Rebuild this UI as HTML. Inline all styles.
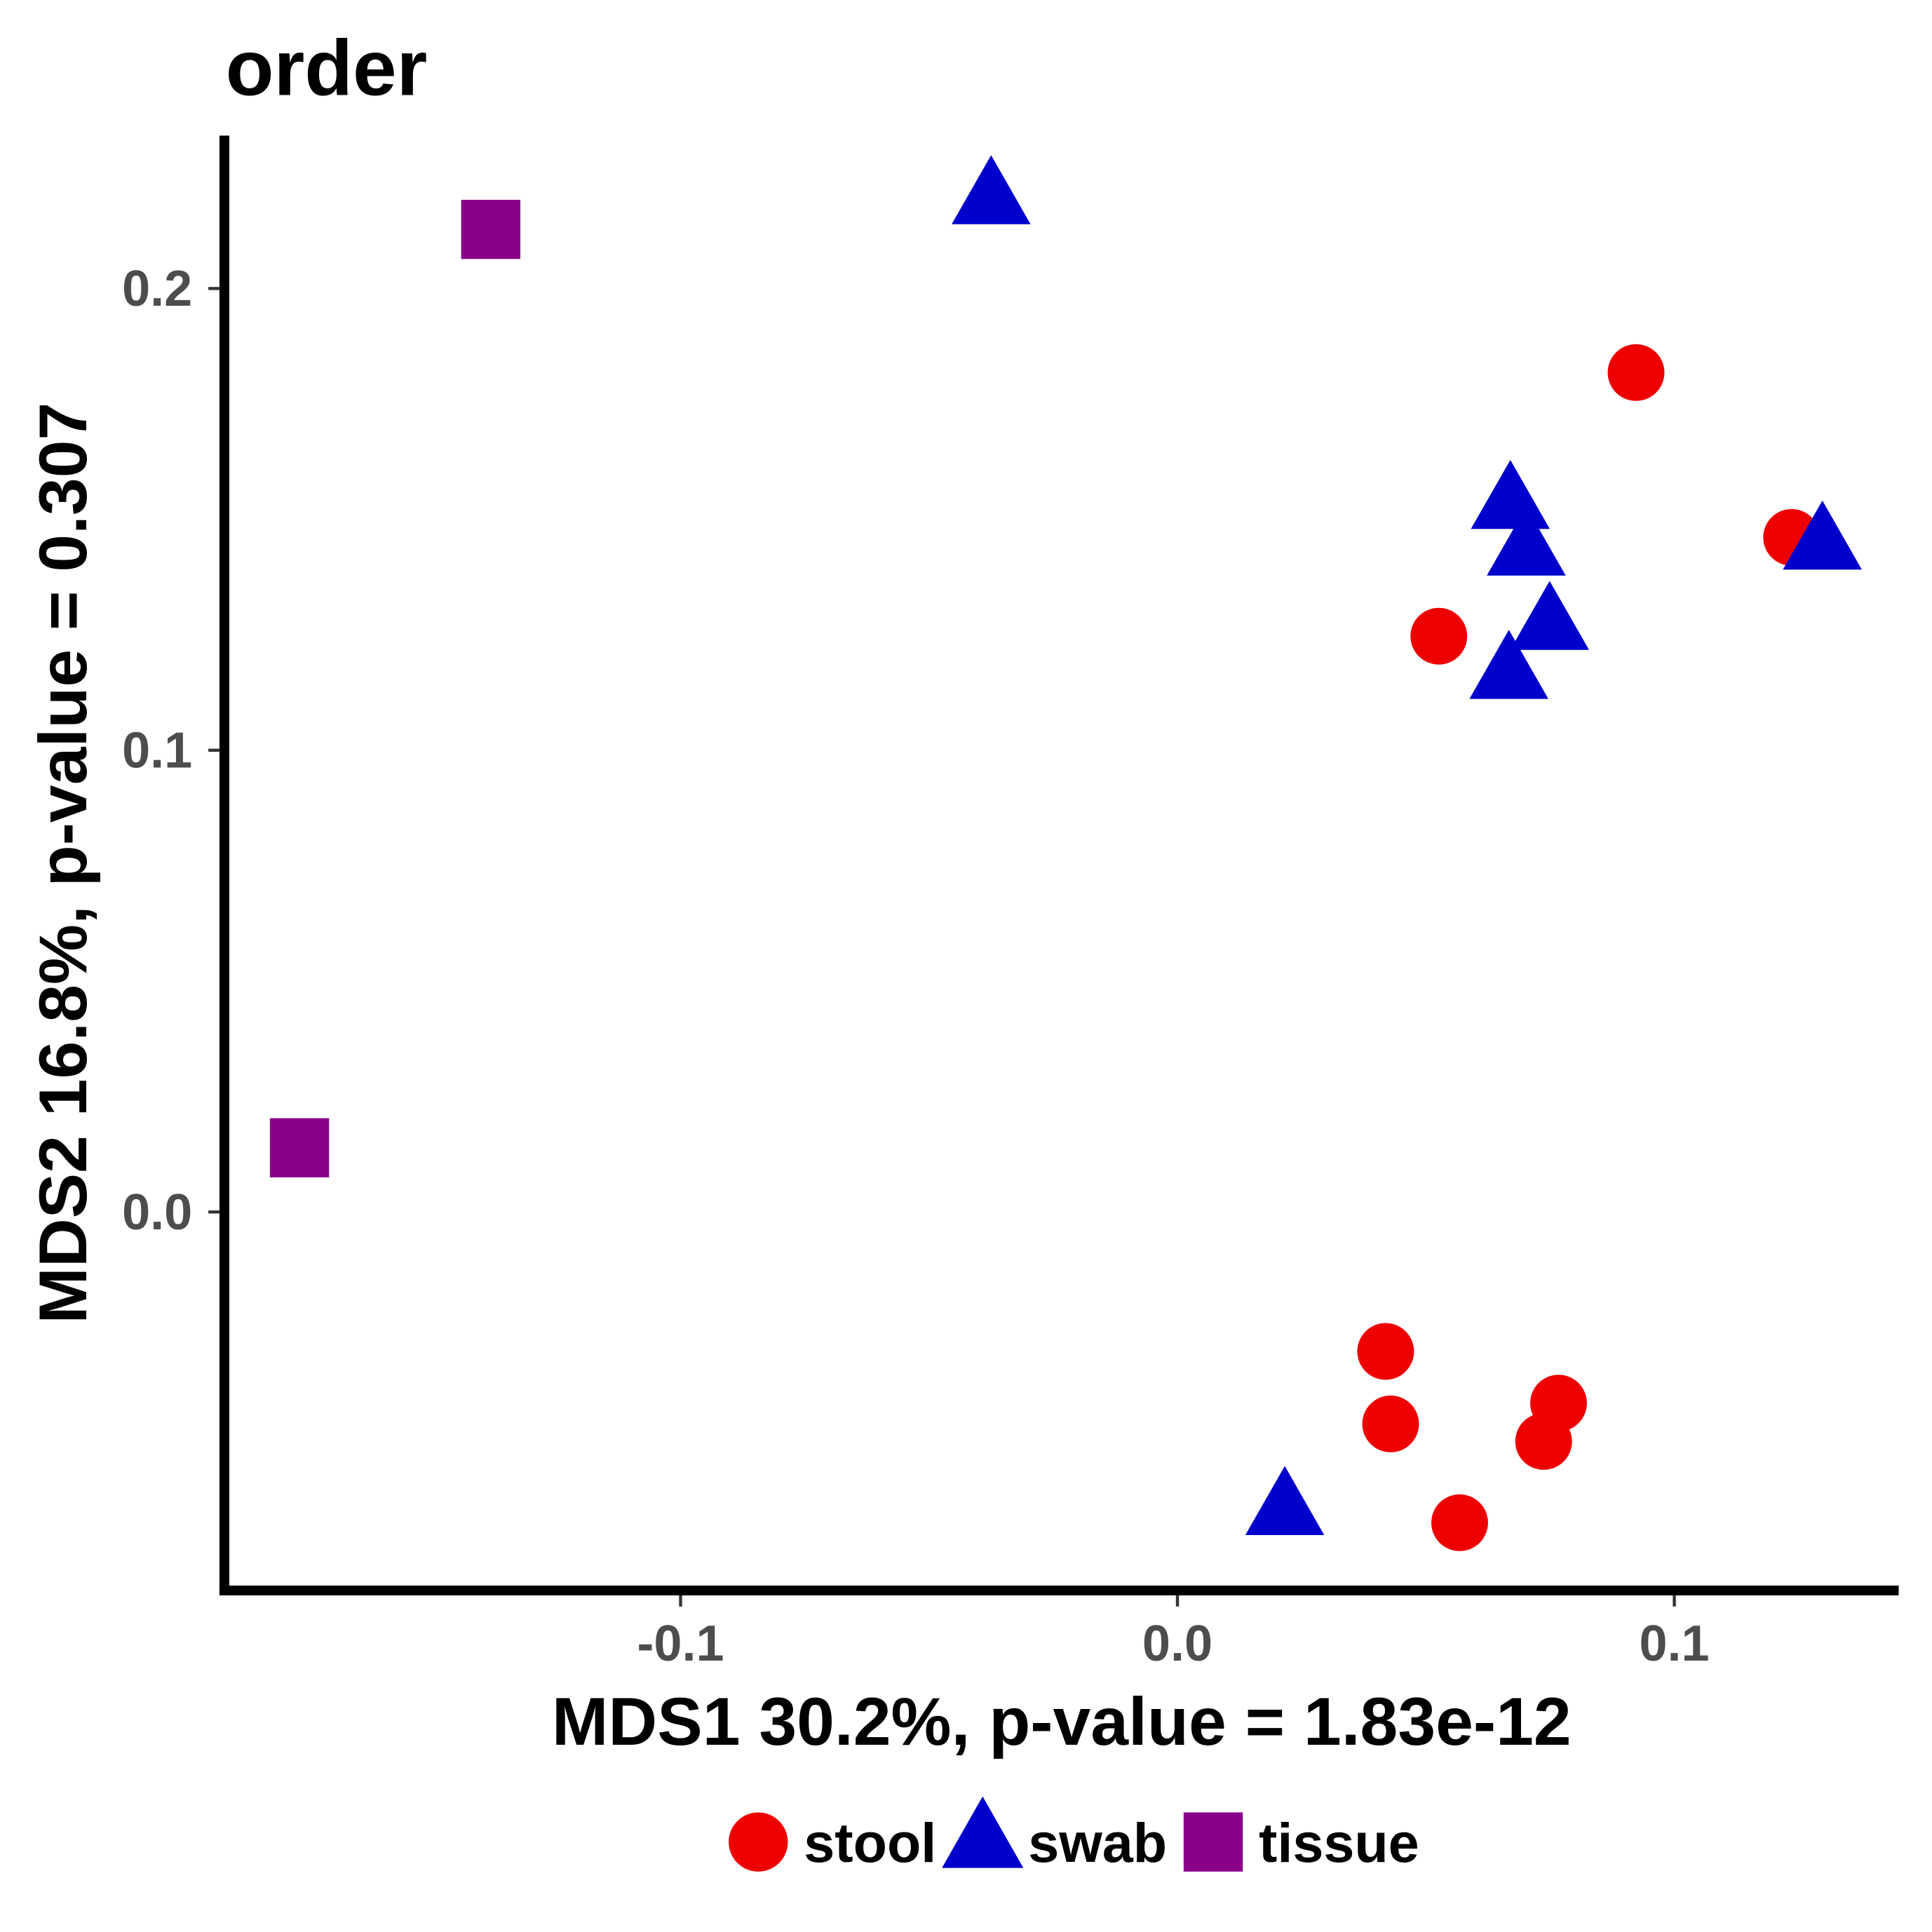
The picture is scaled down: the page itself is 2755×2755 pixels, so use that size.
<!DOCTYPE html>
<html><head><meta charset="utf-8"><style>html,body{margin:0;padding:0;background:#fff}svg{display:block}</style></head>
<body>
<svg id="chart" width="2755" height="2755" viewBox="0 0 1567 1567" xmlns="http://www.w3.org/2000/svg" font-family="Liberation Sans, sans-serif" font-weight="bold">
<text x="183" y="77" font-size="64">order</text>
<g id="axes"></g>
<g id="marks"></g>
<text x="861" y="1415" font-size="55" text-anchor="middle">MDS1 30.2%, p-value = 1.83e-12</text>
<text transform="translate(70,700) rotate(-90)" font-size="55" text-anchor="middle">MDS2 16.8%, p-value = 0.307</text>
<g>
<circle cx="615" cy="1494" r="24" fill="#ee0000"/>
<text x="652" y="1510" font-size="45">stool</text>
<polygon points="797,1457 830,1515 764,1515" fill="#0000cd"/>
<text x="834" y="1510" font-size="45">swab</text>
<rect x="960" y="1470" width="48" height="48" fill="#8b008b"/>
<text x="1021" y="1510" font-size="45">tissue</text>
</g>
</svg>
<script>
const xTicks = [-0.1, 0.0, 0.1];
const xTickLabels = ["-0.1", "0.0", "0.1"];
const yTicks = [0.0, 0.1, 0.2];
const yTickLabels = ["0.0", "0.1", "0.2"];
const stoolX = [0.0923, 0.1236, 0.0526, 0.0419, 0.0429, 0.0767, 0.0737, 0.0568];
const stoolY = [0.1818, 0.1461, 0.1247, -0.0302, -0.0459, -0.0414, -0.0497, -0.0673];
const swabX = [-0.0375, 0.0670, 0.0702, 0.0749, 0.0667, 0.1298, 0.0216];
const swabY = [0.2206, 0.1546, 0.1445, 0.1284, 0.1178, 0.1458, -0.0633];
const tissueX = [-0.1382, -0.1767];
const tissueY = [0.2128, 0.0139];

const NS = "http://www.w3.org/2000/svg";
const xs = v => 955 + v * 4030;
const ys = v => 983 - v * 3745;
const axes = document.getElementById('axes');
const marks = document.getElementById('marks');
function mk(tag, attrs, parent) {
  const e = document.createElementNS(NS, tag);
  for (const k in attrs) e.setAttribute(k, attrs[k]);
  parent.appendChild(e);
  return e;
}
let e;
e = mk('line', {x1:182, y1:110, x2:182, y2:1294, stroke:'#000', 'stroke-width':8}, axes);


e = mk('line', {x1:178, y1:1290, x2:1540, y2:1290, stroke:'#000', 'stroke-width':8}, axes);


xTicks.forEach((t, i) => {
  const x = xs(t);
  let tk = mk('line', {x1:x, y1:1294, x2:x, y2:1303, stroke:'#333', 'stroke-width':2.5}, axes);
  
  
  let lb = mk('text', {x:x, y:1347, 'font-size':41, fill:'#4d4d4d', 'text-anchor':'middle'}, axes);
  lb.textContent = xTickLabels[i];
  
  
});
yTicks.forEach((t, i) => {
  const y = ys(t);
  let tk = mk('line', {x1:169, y1:y, x2:178, y2:y, stroke:'#333', 'stroke-width':2.5}, axes);
  
  
  let lb = mk('text', {x:156, y:y + 14, 'font-size':41, fill:'#4d4d4d', 'text-anchor':'end'}, axes);
  lb.textContent = yTickLabels[i];
  
  
});
stoolX.forEach((v, i) => {
  let c = mk('circle', {cx:xs(v), cy:ys(stoolY[i]), r:23, fill:'#ee0000'}, marks);
  
  
});
swabX.forEach((v, i) => {
  const cx = xs(v), cy = ys(swabY[i]);
  let p = mk('polygon', {points:`${cx},${cy-31} ${cx+32},${cy+25} ${cx-32},${cy+25}`, fill:'#0000cd'}, marks);
  
  
});
tissueX.forEach((v, i) => {
  let r = mk('rect', {x:xs(v) - 24, y:ys(tissueY[i]) - 24, width:48, height:48, fill:'#8b008b'}, marks);
  
  
});
</script>
</body></html>
